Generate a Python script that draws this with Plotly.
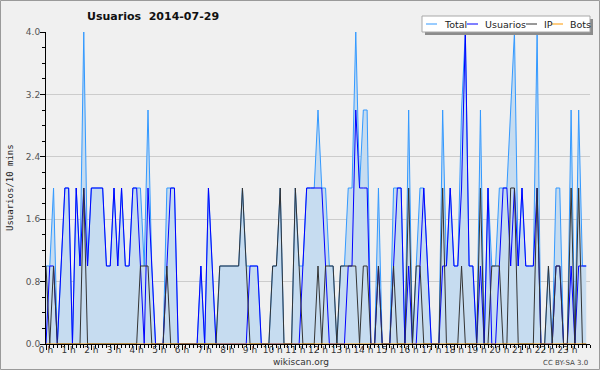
import plotly.graph_objects as go

# ---- data (10-minute intervals, 2014-07-29) ----
minutes = list(range(0, 1440, 10))

total = [1,1,2,0,1,2,2,0,2,1,
         4,1,2,2,2,2,1,1,2,1,
         2,1,1,2,2,2,1,3,1,0,
         0,0,2,2,2,0,0,0,0,0,
         0,1,0,2,1,0,1,1,1,1,
         1,1,2,1,1,1,1,0,0,0,
         1,1,2,0,0,0,2,1,1,2,
         2,2,3,2,2,1,1,0,1,1,
         2,2,4,2,3,3,0,0,2,0,
         0,0,2,2,2,0,3,0,1,2,
         2,1,0,0,0,3,1,2,1,1,
         3,4,1,1,0,3,0,2,1,1,
         2,2,2,3,4,1,2,1,1,1,
         4,0,0,1,0,2,2,0,0,3,
         0,3,1,1]

usuarios = [0,1,1,0,1,2,2,0,2,1,
            2,1,2,2,2,2,1,1,2,1,
            2,1,1,2,2,1,0,2,1,0,
            0,0,1,2,2,0,0,0,0,0,
            0,1,0,2,1,0,0,0,0,0,
            0,0,0,0,1,1,1,0,0,0,
            0,0,0,0,0,0,0,0,1,2,
            2,2,2,2,1,0,0,0,0,0,
            1,1,3,2,2,2,0,0,1,0,
            0,0,1,2,2,0,1,0,0,1,
            2,1,0,0,0,1,1,2,1,1,
            2,4,1,1,0,1,0,2,0,0,
            1,2,2,1,2,1,2,1,1,1,
            2,0,0,0,0,1,1,0,0,1,
            0,1,1,1]

ip = [1,0,1,0,0,0,0,0,0,0,
      2,0,0,0,0,0,0,0,0,0,
      0,0,0,0,0,1,1,1,0,0,
      0,0,1,0,0,0,0,0,0,0,
      0,0,0,0,0,0,1,1,1,1,
      1,1,2,1,0,0,0,0,0,0,
      1,1,2,0,0,0,2,1,0,0,
      0,0,1,0,1,1,1,0,1,1,
      1,1,1,0,1,1,0,0,1,0,
      0,0,1,0,0,0,2,0,1,1,
      0,0,0,0,0,2,0,0,0,0,
      1,0,0,0,0,2,0,0,1,1,
      1,0,0,2,2,0,0,0,0,0,
      2,0,0,1,0,1,1,0,0,2,
      0,2,0,0]

bots = [0] * 144

hour_ticks = list(range(24))
hour_labels = [f"{h} h" for h in hour_ticks]

series_names = ["Total", "Usuarios", "IP", "Bots"]
series_colors = ["#3399ff", "#0000ff", "#333333", "#ff9900"]

title_text = "Usuarios\u00a0 2014-07-29"
ytitle_text = "Usuarios/10 mins"

# ---- geometry (pixels) ----
W, H = 600, 370
L, R, T, B = 46, 590, 32, 344
PW, PH = R - L, B - T


def px(x):
    return (x - L) / PW


def py(y):
    return (B - y) / PH


hours = [m / 60 for m in minutes]

fig = go.Figure()
fig.add_trace(go.Scatter(x=hours, y=total, mode="lines", name="Total",
                         line=dict(color=series_colors[0], width=1),
                         fill="tozeroy", fillcolor="#c6dcf0"))
fig.add_trace(go.Scatter(x=hours, y=usuarios, mode="lines", name="Usuarios",
                         line=dict(color=series_colors[1], width=1)))
fig.add_trace(go.Scatter(x=hours, y=ip, mode="lines", name="IP",
                         line=dict(color=series_colors[2], width=1)))
fig.add_trace(go.Scatter(x=hours, y=bots, mode="lines", name="Bots",
                         line=dict(color=series_colors[3], width=1)))

shapes = []
annotations = []

# figure border
shapes.append(dict(type="rect", xref="paper", yref="paper",
                   x0=px(0.5), x1=px(599.5), y0=py(0.5), y1=py(369.5),
                   line=dict(color="#9a9a9a", width=1), layer="below"))

# legend box with shadow
shapes.append(dict(type="rect", xref="paper", yref="paper",
                   x0=px(425), x1=px(593), y0=py(19), y1=py(35),
                   line=dict(width=0), fillcolor="#8c8c8c"))
shapes.append(dict(type="rect", xref="paper", yref="paper",
                   x0=px(422), x1=px(590), y0=py(16), y1=py(32),
                   line=dict(color="#a8a8a8", width=1), fillcolor="white"))
leg_sample_x = [426, 467, 526, 552]
leg_text_x = [442, 483, 542, 568]
for name, col, sx, tx in zip(series_names, series_colors, leg_sample_x, leg_text_x):
    shapes.append(dict(type="line", xref="paper", yref="paper",
                       x0=px(sx), x1=px(sx + 11), y0=py(24), y1=py(24),
                       line=dict(color=col, width=1)))
    annotations.append(dict(text=name, xref="paper", yref="paper",
                            x=px(tx), y=py(24.5), xanchor="left", yanchor="middle",
                            showarrow=False,
                            font=dict(family="DejaVu Sans", size=9.5, color="#222222")))

# title
annotations.append(dict(text=f"<b>{title_text}</b>", xref="paper", yref="paper",
                        x=px(85), y=py(17), xanchor="left", yanchor="middle",
                        showarrow=False,
                        font=dict(family="DejaVu Sans", size=11, color="#111111")))
# y title
annotations.append(dict(text=ytitle_text, xref="paper", yref="paper",
                        x=px(10), y=py(188), xanchor="center", yanchor="middle",
                        textangle=-90, showarrow=False,
                        font=dict(family="DejaVu Sans Mono", size=9, color="#222222")))
# footer
annotations.append(dict(text="wikiscan.org", xref="paper", yref="paper",
                        x=px(301), y=py(361.5), xanchor="center", yanchor="middle",
                        showarrow=False,
                        font=dict(family="DejaVu Sans", size=9, color="#333333")))
annotations.append(dict(text="CC BY-SA 3.0", xref="paper", yref="paper",
                        x=px(590), y=py(362.5), xanchor="right", yanchor="middle",
                        showarrow=False,
                        font=dict(family="DejaVu Sans", size=7, color="#444444")))

fig.update_layout(
    width=W, height=H,
    margin=dict(l=L, r=W - R, t=T, b=H - B, pad=0),
    paper_bgcolor="#f0f0f0", plot_bgcolor="#f0f0f0",
    showlegend=False,
    shapes=shapes, annotations=annotations,
    xaxis=dict(range=[0, 24], tickmode="array", tickvals=hour_ticks, ticktext=hour_labels,
               ticks="outside", ticklen=5, tickcolor="black", tickwidth=1,
               showline=True, linecolor="black", linewidth=1,
               showgrid=False, zeroline=False, layer="above traces",
               tickfont=dict(family="DejaVu Sans", size=9, color="#333333"),
               ticklabelstandoff=-8,
               minor=dict(dtick=1 / 6, tick0=0, ticks="outside", ticklen=3,
                          tickcolor="black", showgrid=False)),
    yaxis=dict(range=[0, 4], tickmode="linear", tick0=0, dtick=0.8, tickformat=".1f",
               ticks="outside", ticklen=5, tickcolor="black", tickwidth=1,
               showline=True, linecolor="black", linewidth=1,
               showgrid=True, gridcolor="#cccccc", gridwidth=1, zeroline=False,
               layer="above traces", ticklabelstandoff=-2,
               tickfont=dict(family="DejaVu Sans", size=9, color="#555555"),
               minor=dict(dtick=0.2, tick0=0, ticks="outside", ticklen=3,
                          tickcolor="black", showgrid=False)),
)

fig.write_html("out.html", config={"displayModeBar": False, "staticPlot": True},
               post_script="document.body.style.margin='0';")
